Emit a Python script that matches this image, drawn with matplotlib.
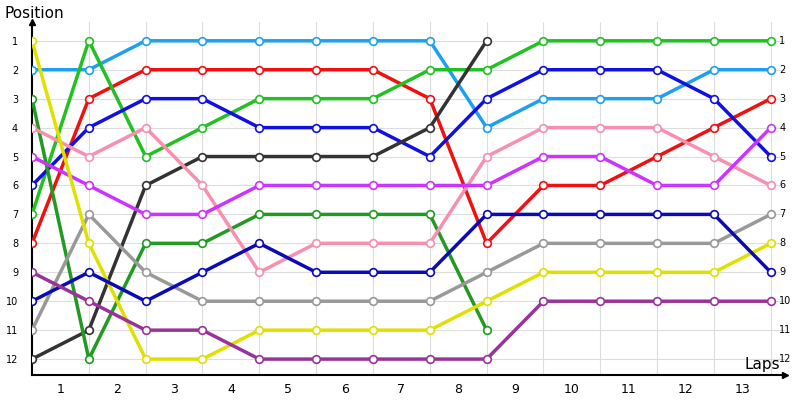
import matplotlib
matplotlib.use("Agg")
import matplotlib.pyplot as plt

points = list(range(14))
lap_labels = [str(i) for i in range(1, 14)]
positions = list(range(1, 13))

series = {
    "lightblue": [2,2,1,1,1,1,1,1,4,3,3,3,2,2],
    "red":       [8,3,2,2,2,2,2,3,8,6,6,5,4,3],
    "green":     [7,1,5,4,3,3,3,2,2,1,1,1,1,1],
    "blue":      [6,4,3,3,4,4,4,5,3,2,2,2,3,5],
    "black":     [12,11,6,5,5,5,5,4,1],
    "darkgreen": [3,12,8,8,7,7,7,7,11],
    "pink":      [4,5,4,6,9,8,8,8,5,4,4,4,5,6],
    "magenta":   [5,6,7,7,6,6,6,6,6,5,5,6,6,4],
    "gray":      [11,7,9,10,10,10,10,10,9,8,8,8,8,7],
    "yellow":    [1,8,12,12,11,11,11,11,10,9,9,9,9,8],
    "navy":      [10,9,10,9,8,9,9,9,7,7,7,7,7,9],
    "purple":    [9,10,11,11,12,12,12,12,12,10,10,10,10,10],
}
colors = {
    "lightblue": "#1ea0f0", "red": "#f01010", "green": "#22c022", "blue": "#1010e0",
    "black": "#333333", "darkgreen": "#229922", "pink": "#f78fae", "magenta": "#cc33ff",
    "gray": "#999999", "yellow": "#e0e000", "navy": "#0a0ab8", "purple": "#993399",
}

fig = plt.figure(figsize=(8, 4), dpi=100)
ax = fig.add_axes([0.04, 0.0625, 0.94125, 0.8825])
for name, vals in series.items():
    ax.plot(points[:len(vals)], vals, color=colors[name], lw=2.5, marker="o",
            markersize=5.5, markerfacecolor="white", markeredgecolor=colors[name],
            markeredgewidth=1.2, zorder=3)

ax.set_xlim(0, 13.25)
ax.set_ylim(12.55, 0.35)
ax.set_yticks(positions)
ax.set_yticklabels([str(p) for p in positions], fontsize=7)
ax.tick_params(axis="y", length=0, pad=10)
ax.set_xticks([p + 0.5 for p in points[:13]])
ax.set_xticklabels(lap_labels, fontsize=9)
ax.tick_params(axis="x", length=0, pad=6)
ax.set_xticks(points, minor=True)
ax.tick_params(axis="x", which="minor", length=0)
ax.grid(False)
for p in points[1:]:
    ax.axvline(p, color="#dddddd", lw=0.8, zorder=0)
for p in positions:
    ax.axhline(p, color="#dddddd", lw=0.8, zorder=0)
for p in positions:
    ax.text(13.15, p, str(p), fontsize=7, ha="left", va="center")
for s in ["top", "right"]:
    ax.spines[s].set_visible(False)
ax.spines["left"].set_linewidth(1.5)
ax.spines["bottom"].set_linewidth(1.5)
ax.plot(0, 0.35, marker="^", color="black", markersize=4, clip_on=False)
ax.plot(13.25, 12.55, marker=">", color="black", markersize=4, clip_on=False)
fig.text(0.005, 0.965, "Position", fontsize=11, ha="left", va="center")
fig.text(0.93, 0.09, "Laps", fontsize=11, ha="left", va="center")
fig.savefig("out.png", dpi=100)
